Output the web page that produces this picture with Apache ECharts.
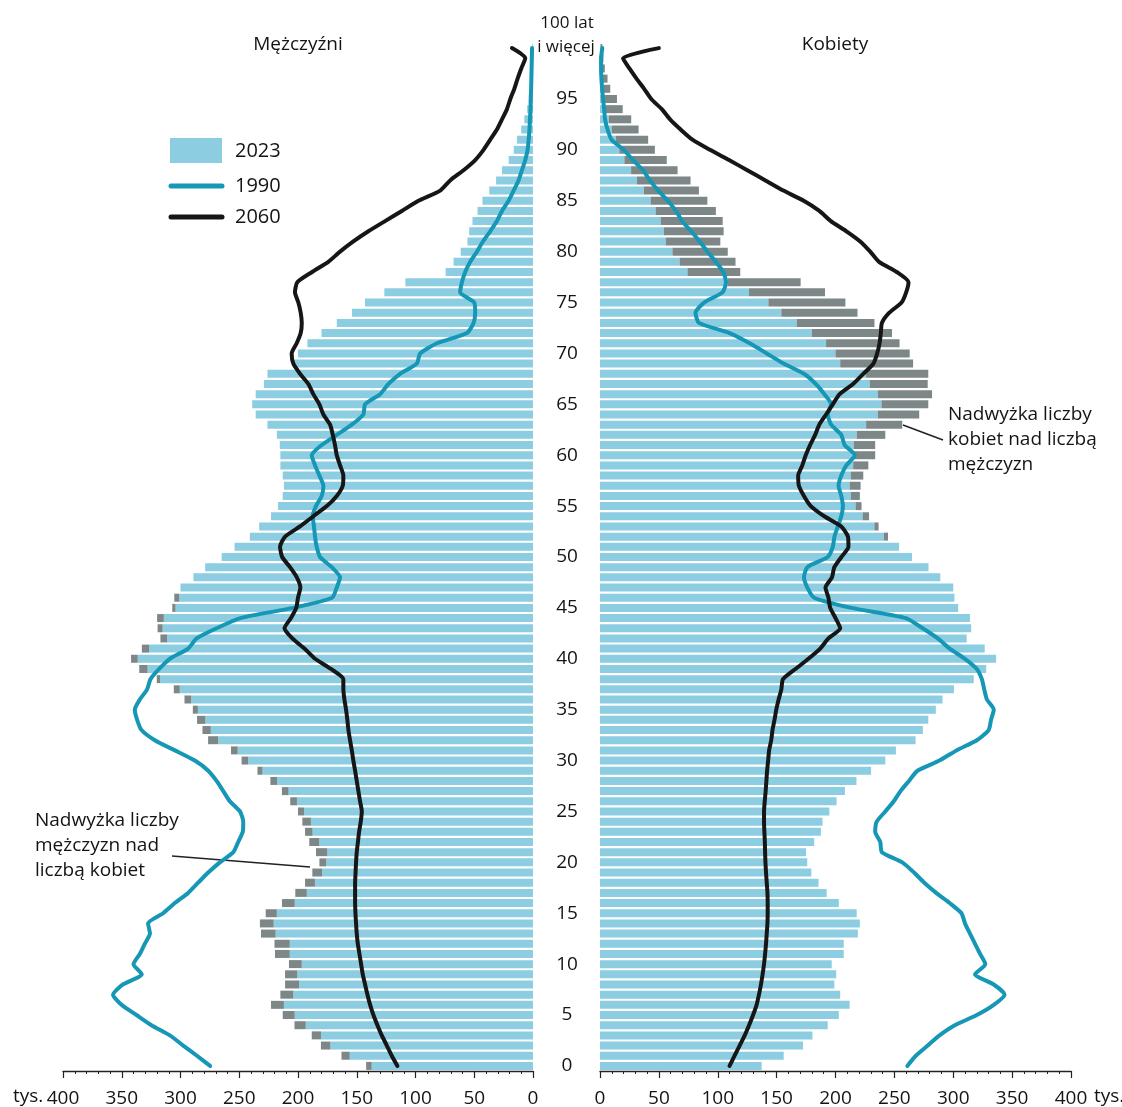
<!DOCTYPE html>
<html>
<head>
<meta charset="utf-8">
<script src="https://cdn.jsdelivr.net/npm/echarts@6/dist/echarts.min.js"></script>
<style>
  html, body { margin: 0; padding: 0; background: #fff; }
  #chart { width: 1122px; height: 1107px; }
</style>
</head>
<body>
<div id="chart"></div>
<script>
// wiek 0..100 (kategorie osi Y)
const ages = [];
for (let i = 0; i <= 100; i++) ages.push(String(i));

// tys. osób
const men2023 = [142,163,180.5,188.3,203,213,223,215,211,211,
  207.7,219.6,220,231.5,232.4,227.5,213.6,202.3,194,187.8,
  181.8,184.7,190.4,194,196.3,200,206.6,213.7,223.5,234.5,
  248,257,276.5,281.3,285.9,289.5,296.6,305.7,320.2,335.1,
  342.1,332.9,317.1,319.5,319.9,307,305.3,300,289,279,
  265,254,241,233,223,217,213,212,213,215,
  215,215.5,218,226,236,239,236,229,226,204,
  200,192,180,167,154,143,126.5,108.6,74.3,67.6,
  61.5,55.8,54.3,51.5,47.2,43,37.2,31.4,26.4,20.7,
  16.4,13.6,10,7.4,5,3.6,2.8,2,1.4,0.9,
  0.6];

const women2023 = [137.3,156,172.4,180.4,193.4,202.8,212,204,199,200.6,
  196.8,207,207,219,220.7,218,202.8,192.5,185.6,179.5,
  176,175,181.9,187.6,189,194.8,200.9,208,217.8,230.2,
  242.3,251.3,268,274.2,278.8,285.2,290.9,300.6,317.4,328,
  336.4,326.7,311.4,315.2,314.2,304.2,301,300,289,279,
  265,254,244.6,236.6,228.5,222.1,220.7,221.3,223.6,227.9,
  233.7,233.7,242.3,256.7,271.1,278.8,282,278.3,278.8,265.9,
  263,254.4,248,233.1,218.7,208.4,191.1,170.4,119.1,115.1,
  108.5,102.2,105,104.2,98.4,91.2,84,76.9,65.9,56.7,
  46.6,40.9,32.8,26.5,19.3,14.4,8.7,6.4,4.1,2.9,
  2];

const men1990 = [274.8,286,297.7,309,324.7,337.5,350.2,357.4,349,333,
  340,334.6,330.4,326,327.6,314.8,304.8,293.5,285,276.4,
  266.5,255,250.9,247,246.6,249.4,258,263.6,269.3,276.4,
  287.8,304.8,321.9,333.2,336.9,338.9,334.6,328.4,325.5,318.2,
  309.1,293.5,286.3,269.3,249,204,171,167,164.2,171.3,
  181.3,184.1,185.5,186.4,187.5,184.7,179.8,178.4,181.8,185.5,
  188.3,179.8,167,154.2,144.4,142.9,130.1,123,113.1,98.9,
  96,81.8,56.2,50.6,49.2,50,62,60.5,57.7,53.4,
  47.7,42.6,36.4,30.7,26.4,20.8,16.5,12.3,9.4,6.6,
  4.6,3.7,3,2.6,2.1,1.9,1.6,1.4,1.2,1,
  0.8];

const women1990 = [261,268.2,278.3,288.3,301.3,320,334.4,343.6,334.4,318.5,
  327.2,322.8,318.5,314.2,310,307,297,285.5,275.4,266.7,
  256.7,239.4,238,233.7,235,242.3,249.5,255.2,262.4,269.6,
  288.3,302.7,320,330.1,332.1,334.4,328.6,326.3,324.3,320,
  309.9,296.9,286.9,274,259.6,213.6,181.9,176.1,173.2,176.1,
  193.4,197.7,199.1,202,204.9,206.3,204.9,202.6,204.9,209.2,
  216.4,207.8,204.9,196.3,193.4,196.3,190.5,183.3,173.2,155.9,
  141.6,127.2,110,84.1,81.1,88.4,104,107,104.8,98.4,
  91.2,84.6,77.4,69.7,64.5,57.6,49.5,42.3,36.6,27.9,
  20.2,9.8,6.4,4.3,3.5,2.6,1.8,1.2,0.9,0.9,
  2];

const men2060 = [115.4,120.2,124.4,128.7,132.4,135.8,138.6,140.9,142.9,144.9,
  146.3,147.7,149.1,150,150.6,151.1,151.4,151.4,151.4,151,
  150.6,150,149,148,146.6,145.7,147.2,148.6,150,151.4,
  152.9,154.2,155.7,157.1,158,159.1,160.5,161.4,161.4,172,
  185.5,194.5,204.8,211.5,206,201.5,200,198,201,206.8,
  213.5,215.3,211,198.3,187,175.5,167,161.9,161.4,164.2,
  167,168.5,170.4,172.7,178.4,181.8,187,191.2,198.3,204,
  205.4,201.1,197.7,196.8,197.7,199.7,202.6,200.6,188,174.2,
  164.2,152.9,140.1,125.9,111.6,97.5,79,70.5,59.1,49.2,
  42.1,36.4,30.7,26.4,22.2,19.3,15.9,13.1,10,6.6,
  17.9];

const women2060 = [110,114.3,118.6,122.9,126.6,130,133,135,136.7,138.1,
  139.3,140.2,141,141.6,142.2,142.4,142.4,142.2,141.6,141,
  140.5,140.2,140,139.6,139.3,139.3,139.9,140.7,141.3,141.9,
  142.8,143.6,145.4,146.5,148.2,149.7,151.7,154,155.4,166,
  177,187,194,204,200,195.5,194,191.5,197,199,
  205,211,210.6,204.9,190.5,179,173.2,168.9,168.3,171.8,
  174.7,178.4,182.7,186.2,192,197.7,203.5,214.9,223.6,232.2,
  235.4,237.4,238.5,239.4,245.7,256.1,260,262,252,237,
  229.5,221,209.3,196,186.3,173,155.7,140.5,125.1,109.6,
  93.4,78.5,68.5,59.5,52.5,43.5,37.5,31,25,19.5,
  50];

// część wspólna i nadwyżka
const common = men2023.map((m, i) => Math.min(m, women2023[i]));
const menExcess = men2023.map((m, i) => +(m - common[i]).toFixed(1));
const womenExcess = women2023.map((w, i) => +(w - common[i]).toFixed(1));

const FONT = '"Open Sans", "Noto Sans", sans-serif';
const BLUE = '#8ccde1';
const GREY = '#7d8788';
const TEAL = '#1597b5';
const BLACK = '#161616';
const TXT = '#141414';

function xAxisCfg(grid, inverse) {
  return {
    gridIndex: grid, type: 'value', min: 0, max: 400, interval: 50, inverse: inverse,
    position: 'bottom',
    axisLine: { show: true, onZero: false, lineStyle: { color: '#222', width: 1.3 } },
    axisTick: { show: true, length: 7, lineStyle: { color: '#222', width: 1.2 } },
    minorTick: { show: true, splitNumber: 5, length: 3, lineStyle: { color: '#222', width: 1 } },
    splitLine: { show: false },
    axisLabel: { fontSize: 19, color: TXT, fontFamily: FONT, margin: 18 }
  };
}

function lineCfg(name, grid, data, color) {
  return {
    name: name, type: 'line', xAxisIndex: grid, yAxisIndex: grid, data: data,
    symbol: 'none', smooth: 0.2, z: 5,
    lineStyle: { color: color, width: 4, cap: 'round', join: 'round' }
  };
}

let myChart = echarts.init(document.getElementById('chart'));
const option = {
  animation: false,
  grid: [
    { left: 63, top: 43, width: 470, height: 1028, outerBoundsMode: 'none' },
    { left: 600, top: 43, width: 471, height: 1028, outerBoundsMode: 'none' }
  ],
  xAxis: [xAxisCfg(0, true), xAxisCfg(1, false)],
  yAxis: [
    { gridIndex: 0, type: 'category', data: ages, show: false },
    {
      gridIndex: 1, type: 'category', data: ages, position: 'left',
      axisLine: { show: false }, axisTick: { show: false }, splitLine: { show: false },
      axisLabel: {
        interval: (idx) => idx % 5 === 0 && idx < 100,
        align: 'center', margin: 33, fontSize: 19, color: TXT, fontFamily: FONT
      }
    }
  ],
  series: [
    { name: '2023', type: 'bar', xAxisIndex: 0, yAxisIndex: 0, stack: 'L', data: common,
      barWidth: 8, itemStyle: { color: BLUE } },
    { name: 'nadwyżka mężczyzn', type: 'bar', xAxisIndex: 0, yAxisIndex: 0, stack: 'L', data: menExcess,
      barWidth: 8, itemStyle: { color: GREY } },
    { name: '2023 K', type: 'bar', xAxisIndex: 1, yAxisIndex: 1, stack: 'R', data: common,
      barWidth: 8, itemStyle: { color: BLUE } },
    { name: 'nadwyżka kobiet', type: 'bar', xAxisIndex: 1, yAxisIndex: 1, stack: 'R', data: womenExcess,
      barWidth: 8, itemStyle: { color: GREY } },
    lineCfg('1990', 0, men1990, TEAL),
    lineCfg('2060', 0, men2060, BLACK),
    lineCfg('1990 K', 1, women1990, TEAL),
    lineCfg('2060 K', 1, women2060, BLACK)
  ],
  graphic: [
    { type: 'text', style: { text: 'Mężczyźni', x: 298, y: 45, align: 'center', verticalAlign: 'middle', font: '19px ' + FONT, fill: TXT } },
    { type: 'text', style: { text: 'Kobiety', x: 835, y: 45, align: 'center', verticalAlign: 'middle', font: '19px ' + FONT, fill: TXT } },
    { type: 'text', style: { text: '100 lat', x: 567, y: 23, align: 'center', verticalAlign: 'middle', font: '17px ' + FONT, fill: TXT } },
    { type: 'text', style: { text: 'i więcej', x: 566, y: 47, align: 'center', verticalAlign: 'middle', font: '17px ' + FONT, fill: TXT } },
    // legenda
    { type: 'rect', shape: { x: 170, y: 138, width: 52, height: 25 }, style: { fill: BLUE } },
    { type: 'line', shape: { x1: 171, y1: 186, x2: 222, y2: 186 }, style: { stroke: TEAL, lineWidth: 5, lineCap: 'round' } },
    { type: 'line', shape: { x1: 171, y1: 217, x2: 222, y2: 217 }, style: { stroke: BLACK, lineWidth: 5, lineCap: 'round' } },
    { type: 'text', style: { text: '2023', x: 235, y: 151, verticalAlign: 'middle', font: '20px ' + FONT, fill: TXT } },
    { type: 'text', style: { text: '1990', x: 235, y: 186, verticalAlign: 'middle', font: '20px ' + FONT, fill: TXT } },
    { type: 'text', style: { text: '2060', x: 235, y: 217, verticalAlign: 'middle', font: '20px ' + FONT, fill: TXT } },
    // adnotacje
    { type: 'text', style: { text: 'Nadwyżka liczby\nmężczyzn nad\nliczbą kobiet', x: 35, y: 808, lineHeight: 25, font: '19px ' + FONT, fill: TXT } },
    { type: 'line', shape: { x1: 172, y1: 856, x2: 310, y2: 867 }, style: { stroke: '#222', lineWidth: 1.5 } },
    { type: 'text', style: { text: 'Nadwyżka liczby\nkobiet nad liczbą\nmężczyzn', x: 948, y: 402, lineHeight: 25, font: '19px ' + FONT, fill: TXT } },
    { type: 'line', shape: { x1: 903, y1: 425, x2: 943, y2: 440 }, style: { stroke: '#222', lineWidth: 1.5 } },
    { type: 'text', style: { text: 'tys.', x: 13, y: 1097, verticalAlign: 'middle', font: '19px ' + FONT, fill: TXT } },
    { type: 'text', style: { text: 'tys.', x: 1094, y: 1097, verticalAlign: 'middle', font: '19px ' + FONT, fill: TXT } }
  ]
};
myChart.setOption(option);
</script>
</body>
</html>
